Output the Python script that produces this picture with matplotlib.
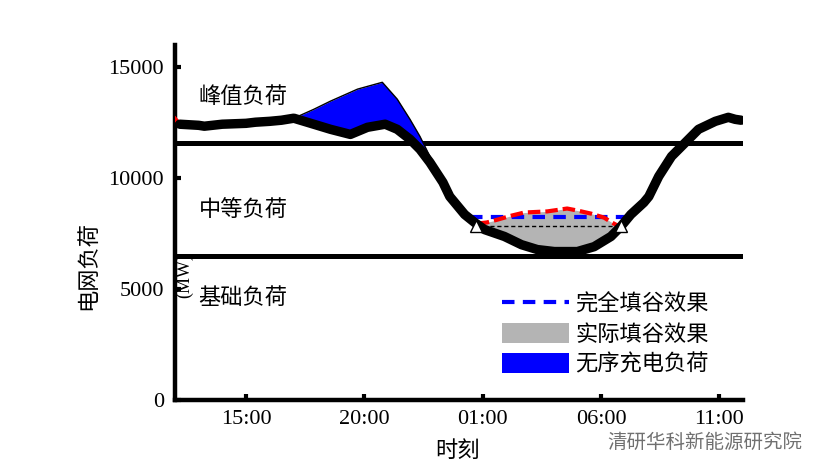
import numpy as np
import matplotlib as mpl
mpl.use('Agg')
import matplotlib.pyplot as plt
from matplotlib.lines import Line2D
from matplotlib.patches import Patch

plt.rcParams['font.family'] = ['Liberation Serif', 'Noto Sans CJK SC']
cjk = ['Noto Sans CJK SC', 'DejaVu Sans']

# base grid load (MW), hours from 12:00 to 12:00 next day
base_h = [12.2, 13.0, 13.24, 14.0, 15.0, 15.4, 16.0, 16.5, 17.02, 17.86, 18.57,
          19.41, 20.13, 20.88, 21.39, 21.93, 22.35, 22.77, 23.32, 23.61, 23.82,
          24.24, 24.66, 25.08, 25.92, 26.64, 27.31, 28.03, 29.0, 29.71, 30.42,
          30.84, 31.26, 31.81, 32.02, 32.44, 32.98, 33.57, 34.12, 34.83, 35.38,
          35.67, 35.92]
base_v = [12430, 12380, 12340, 12430, 12470, 12520, 12560, 12610, 12700, 12430,
          12200, 11970, 12290, 12430, 12200, 11750, 11300, 10710, 9810, 9170,
          8900, 8360, 8000, 7680, 7370, 7000, 6780, 6690, 6690, 6910, 7370,
          7820, 8360, 8900, 9170, 10080, 10980, 11610, 12200, 12560, 12740,
          12650, 12610]

# uncontrolled charging load (upper edge of blue area)
ev_h = [17.02, 17.86, 18.57, 19.71, 20.76, 21.39, 21.93, 22.35, 22.77, 23.19, 23.45]
ev_v = [12700, 13100, 13470, 14010, 14320, 13560, 12650, 11880, 10980, 10260, 9550]

# actual valley filling (red dashed)
act_h = [24.75, 25.17, 25.63, 26.22, 26.76, 27.73, 28.57, 29.0, 29.58, 30.13, 30.46, 30.8]
act_v = [7950, 8000, 8130, 8310, 8450, 8500, 8630, 8540, 8400, 8220, 8000, 7800]

# red ends of the load curve
red_start_h, red_start_v = [12.0, 12.2], [12680, 12430]
red_end_h, red_end_v = [35.92, 36.0], [12610, 12610]

peak_level = 11600
base_level = 6500
full_fill = 8270
fill_start, fill_end = 24.45, 31.2
tri_h = [24.7, 30.84]
tri_v = 7820

xticks = [15, 20, 25, 30, 35]
xticklabels = ['15:00', '20:00', '01:00', '06:00', '11:00']
yticks = [0, 5000, 10000, 15000]

fig = plt.figure(figsize=(8.31, 4.66), dpi=100)
ax = fig.add_axes([175 / 831, 1 - 400 / 466, (743 - 175) / 831, (400 - 45) / 466])
ax.set_xlim(12, 36)
ax.set_ylim(0, 16000)

ax.axhline(peak_level, color='black', lw=3.6, zorder=2)
ax.axhline(base_level, color='black', lw=3.6, zorder=2)

# blue area
grid = np.array(ev_h)
ax.fill_between(grid, np.interp(grid, base_h, base_v), ev_v, color='#0000ff',
                lw=0, zorder=3)
ax.plot(ev_h, ev_v, color='black', lw=1.0, zorder=3)

# grey area
g = np.array(act_h)
ax.fill_between(g, np.interp(g, base_h, base_v), act_v, color='#b4b4b4',
                lw=0, zorder=3)
ax.plot([tri_h[0], tri_h[1]], [tri_v, tri_v], color='black', lw=1.0,
        ls=(0, (3, 2)), zorder=4)
ax.plot(tri_h, [tri_v, tri_v], ls='none', marker='^', ms=9, mfc='white',
        mec='black', mew=1.0, zorder=6)

ax.plot([fill_start, fill_end], [full_fill, full_fill], color='#0000ff', lw=3,
        dashes=(3, 2), zorder=5)
ax.plot(act_h, act_v, color='#ff0000', lw=3, dashes=(3, 1.2), zorder=5)
ax.plot(red_start_h, red_start_v, color='#ff0000', lw=3, zorder=4)
ax.plot(red_end_h, red_end_v, color='#ff0000', lw=3, zorder=4)

ax.plot(base_h, base_v, color='black', lw=6.8, solid_joinstyle='round',
        solid_capstyle='round', zorder=5)

ax.text(13.0, 13690, '峰值负荷', fontsize=16, family=cjk, va='center')
ax.text(13.0, 8540, '中等负荷', fontsize=16, family=cjk, va='center')
ax.text(13.0, 4610, '基础负荷', fontsize=16, family=cjk, va='center')
ax.text(12.4, 5600, '(MW)', fontsize=13, rotation=90, ha='center', va='center')

for s in ['top', 'right']:
    ax.spines[s].set_visible(False)
for s in ['left', 'bottom']:
    ax.spines[s].set_linewidth(3.2)
ax.tick_params(direction='in', length=4, width=3, labelsize=16)
ax.tick_params(axis='y', pad=8)
ax.tick_params(axis='x', pad=7)
ax.set_xticks(xticks)
ax.set_xticklabels(xticklabels)
ax.set_yticks(yticks)

fig.text(88 / 831, 1 - 265 / 466, '电网负荷', fontsize=16, family=cjk,
         rotation=90, ha='center', va='center')
fig.text(457 / 831, 1 - 450 / 466, '时刻', fontsize=16, family=cjk,
         ha='center', va='center')
fig.text(607 / 831, 1 - 442 / 466, '清研华科新能源研究院', fontsize=14, family=cjk,
         color='#707070', ha='left', va='center')

handles = [Line2D([], [], color='#0000ff', lw=3, dashes=(3, 2)),
           Patch(color='#b4b4b4', lw=0),
           Patch(color='#0000ff', lw=0)]
labels = ['完全填谷效果', '实际填谷效果', '无序充电负荷']
leg = ax.legend(handles, labels, loc='upper left',
                bbox_to_anchor=(502 / 831, 1 - 293 / 466),
                bbox_transform=fig.transFigure, frameon=False,
                prop={'family': cjk, 'size': 16}, handlelength=3.0,
                handleheight=1.0, handletextpad=0.3, labelspacing=0.3,
                borderpad=0, borderaxespad=0)

fig.savefig('out.png', dpi=100)
